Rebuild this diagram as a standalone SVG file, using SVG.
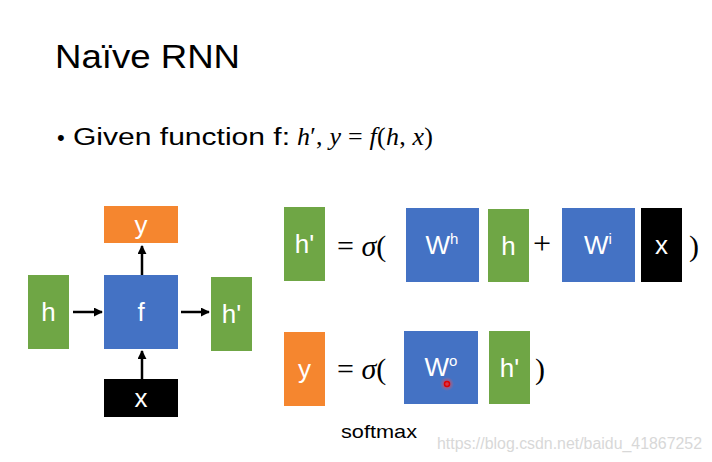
<svg xmlns="http://www.w3.org/2000/svg" width="712" height="462" viewBox="0 0 712 462">
<defs>
<style>
.g{fill:#6FA645}.b{fill:#4472C4}.o{fill:#F5862F}.k{fill:#000}
.lb{font-family:"Liberation Sans","Open Sans",sans-serif;font-size:26px;fill:#fff;text-anchor:middle}
.sup{font-size:15px}
.t{font-family:"Liberation Sans","Open Sans",sans-serif;fill:#000}
.m{font-family:"Liberation Serif","DejaVu Serif",serif;fill:#000}
.mi{font-style:italic}
.cn{stroke:#000;stroke-width:2.5;fill:none;marker-end:url(#ah)}
</style>
<marker id="ah" viewBox="0 0 10 10" refX="9" refY="5" markerWidth="3.6" markerHeight="3.6" orient="auto" markerUnits="strokeWidth">
<path d="M0,0 L10,5 L0,10 z" fill="#000"/>
</marker>
<radialGradient id="glow"><stop offset="0" stop-color="#ff2020" stop-opacity="0.9"/><stop offset="1" stop-color="#ff6060" stop-opacity="0"/></radialGradient>
</defs>
<rect width="712" height="462" fill="#fff"/>
<text class="t" x="55" y="68" font-size="34" textLength="185" lengthAdjust="spacingAndGlyphs">Naïve RNN</text>
<g id="bullet">
<text class="t" x="57" y="145" font-size="22">•</text>
<text class="t" x="73" y="145" font-size="23" textLength="217" lengthAdjust="spacingAndGlyphs">Given function f:</text>
<text class="m" x="297" y="145" font-size="26" textLength="136" lengthAdjust="spacing"><tspan class="mi">h</tspan>′, <tspan class="mi">y</tspan> = <tspan class="mi">f</tspan>(<tspan class="mi">h</tspan>, <tspan class="mi">x</tspan>)</text>
</g>
<g id="node-y"><rect class="o" x="104" y="206" width="74" height="37"/><text class="lb" x="141" y="234">y</text></g>
<g id="node-h"><rect class="g" x="28" y="275" width="41" height="74"/><text class="lb" x="48.5" y="321">h</text></g>
<g id="node-f"><rect class="b" x="104" y="275" width="74" height="74"/><text class="lb" x="141" y="321">f</text></g>
<g id="node-h2"><rect class="g" x="211" y="277" width="41" height="74"/><text class="lb" x="231.5" y="323">h'</text></g>
<g id="node-x"><rect class="k" x="104" y="379" width="74" height="38"/><text class="lb" x="141" y="407">x</text></g>
<g id="connectors">
<line class="cn" x1="73" y1="312" x2="102" y2="312"/>
<line class="cn" x1="181" y1="312" x2="209" y2="312"/>
<line class="cn" x1="142" y1="275" x2="142" y2="246"/>
<line class="cn" x1="142" y1="379" x2="142" y2="351"/>
</g>
<g id="eq1">
<g id="e1-hp"><rect class="g" x="284" y="207" width="41" height="74"/><text class="lb" x="304.5" y="253">h'</text></g>
<text class="m" x="337" y="256" font-size="30">= <tspan class="mi">σ</tspan>(</text>
<g id="e1-wh"><rect class="b" x="406" y="208" width="73" height="74"/><text class="lb" x="442" y="254">W<tspan class="sup" dy="-10">h</tspan></text></g>
<g id="e1-h"><rect class="g" x="488" y="209" width="41" height="73"/><text class="lb" x="508.5" y="255">h</text></g>
<text class="m" x="533" y="254" font-size="32">+</text>
<g id="e1-wi"><rect class="b" x="562" y="208" width="73" height="74"/><text class="lb" x="598" y="254">W<tspan class="sup" dy="-10">i</tspan></text></g>
<g id="e1-x"><rect class="k" x="641" y="208" width="41" height="74"/><text class="lb" x="661.5" y="254">x</text></g>
<text class="m" x="689" y="256" font-size="30">)</text>
</g>
<g id="eq2">
<g id="e2-y"><rect class="o" x="284" y="332" width="41" height="74"/><text class="lb" x="304.5" y="378">y</text></g>
<text class="m" x="337" y="379" font-size="30">= <tspan class="mi">σ</tspan>(</text>
<g id="e2-wo"><rect class="b" x="404" y="331" width="74" height="73"/><text class="lb" x="441" y="376">W<tspan class="sup" dy="-10">o</tspan></text>
<circle cx="447" cy="384" r="7" fill="url(#glow)"/><circle cx="447" cy="384" r="2.5" fill="none" stroke="#e00000" stroke-width="1.5"/></g>
<g id="e2-hp"><rect class="g" x="489" y="331" width="41" height="73"/><text class="lb" x="509.5" y="377">h'</text></g>
<text class="m" x="535" y="379" font-size="30">)</text>
<text class="t" x="341" y="438" font-size="19" textLength="76" lengthAdjust="spacingAndGlyphs">softmax</text>
</g>
<text x="437" y="449" font-family="Liberation Sans, Arial, sans-serif" font-size="16" fill="#d8d8d8" textLength="265" lengthAdjust="spacingAndGlyphs">https://blog.csdn.net/baidu_41867252</text>
</svg>
